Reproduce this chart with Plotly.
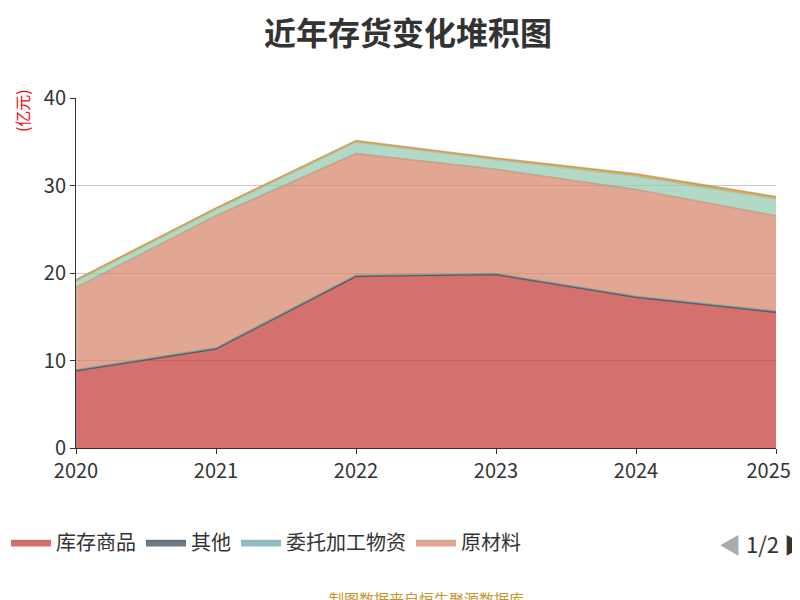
import plotly.graph_objects as go

years = ["2020", "2021", "2022", "2023", "2024", "2025H"]
kucun = [8.8, 11.3, 19.6, 19.8, 17.2, 15.5]
qita = [0.05, 0.05, 0.05, 0.05, 0.05, 0.05]
weituo = [0.1, 0.1, 0.1, 0.1, 0.1, 0.1]
yuancailiao = [9.4, 15.1, 13.9, 11.9, 12.2, 10.9]
zhouzhuan = [0.7, 0.7, 1.3, 1.1, 1.5, 1.9]
other2 = [0.2, 0.2, 0.2, 0.2, 0.3, 0.3]

series = [
    ("库存商品", kucun, (194, 53, 49), True),
    ("其他", qita, (47, 69, 84), True),
    ("委托加工物资", weituo, (97, 160, 168), True),
    ("原材料", yuancailiao, (212, 130, 101), True),
    ("周转材料", zhouzhuan, (145, 199, 174), False),
    ("其他2", other2, (202, 134, 34), False),
]

fig = go.Figure()
for name, vals, (r, g, b), show in series:
    fig.add_trace(go.Scatter(
        x=years, y=vals, name=name, stackgroup="one", mode="lines",
        line=dict(color=f"rgba({r},{g},{b},0.6)", width=1.5),
        fillcolor=f"rgba({r},{g},{b},0.7)", showlegend=show))

fig.update_layout(
    width=800, height=600, paper_bgcolor="white", plot_bgcolor="white",
    font=dict(family="Noto Sans CJK SC", color="#333"),
    title=dict(text="<b>近年存货变化堆积图</b>", x=0.5, y=0.957, xanchor="center",
               yanchor="middle", font=dict(size=32, color="#333")),
    margin=dict(l=68, r=32, t=90, b=160, autoexpand=False),
    xaxis=dict(type="category", range=[0, 5], showline=True, linecolor="#333",
               ticks="outside", tickcolor="#333", tickfont=dict(size=20),
               showgrid=False, automargin=False),
    yaxis=dict(range=[0, 40], dtick=10, showline=True, linecolor="#333",
               ticks="outside", tickcolor="#333", tickfont=dict(size=20),
               gridcolor="#ccc", zeroline=False, automargin=False),
    legend=dict(orientation="h", x=-0.1, y=-0.27, xanchor="left", yanchor="middle",
                font=dict(size=20), traceorder="normal", itemwidth=40),
    annotations=[
        dict(text="(亿元)", x=-0.097, y=1.03, xref="paper", yref="paper", showarrow=False,
             textangle=-90, font=dict(size=16, color="red"), xanchor="left", yanchor="top"),
        dict(text="<span style='color:#aaa'>◀</span> 1/2 ▶", xref="paper", yref="paper", x=1.045, y=-0.27,
             showarrow=False, xanchor="right", yanchor="middle", font=dict(size=22, color="#333")),
        dict(text="制图数据来自恒生聚源数据库", xref="paper", yref="paper", x=0.5, y=-0.43,
             showarrow=False, yanchor="middle", font=dict(size=15, color="#c8961e")),
    ],
)
fig.write_html("out.html")
